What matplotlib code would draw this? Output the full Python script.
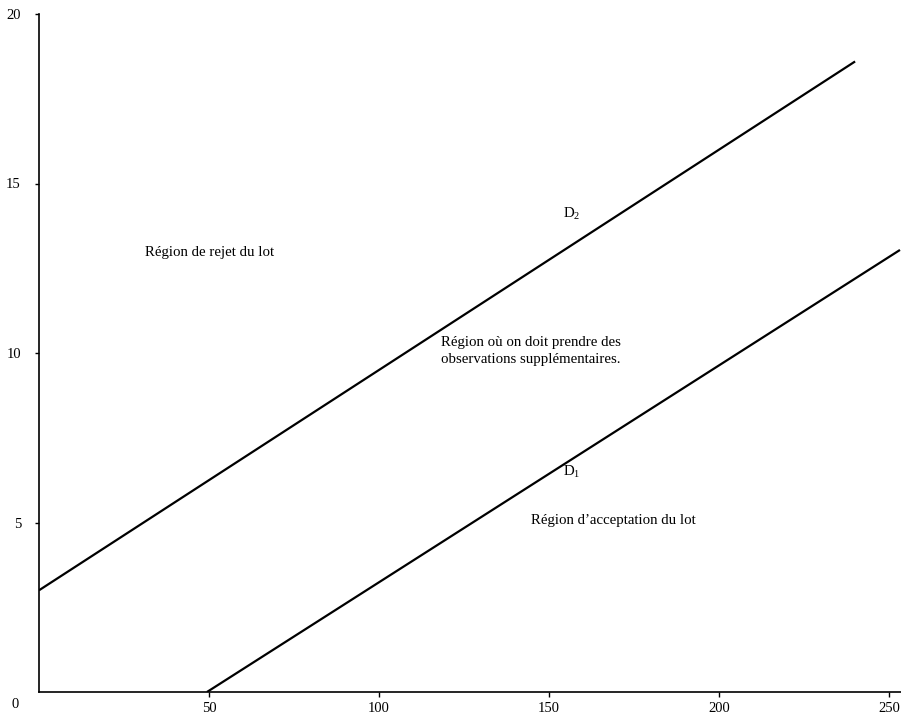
import matplotlib.pyplot as plt

plt.rcParams['font.family'] = ['Liberation Serif', 'DejaVu Serif']
plt.rcParams['mathtext.fontset'] = 'custom'
plt.rcParams['mathtext.rm'] = 'Liberation Serif'
plt.rcParams['mathtext.it'] = 'Liberation Serif:italic'

# droites de decision
d2_x = [0, 240]
d2_y = [3.0, 18.6]
d1_x = [49.4, 253.2]
d1_y = [0.0, 13.04]

x_ticks = [50, 100, 150, 200, 250]
y_ticks = [5, 10, 15, 20]

fig = plt.figure(figsize=(9.01, 7.15), dpi=100)
ax = fig.add_axes([39 / 901, 23 / 715, 862 / 901, 678 / 715])

ax.plot(d2_x, d2_y, color='black', lw=1.6, solid_capstyle='butt')
ax.plot(d1_x, d1_y, color='black', lw=1.6, solid_capstyle='butt')

ax.set_xlim(0, 253.5)
ax.set_ylim(0, 20)
ax.set_xticks(x_ticks)
ax.set_yticks(y_ticks)
ax.set_xticklabels([str(v) for v in x_ticks])
ax.set_yticklabels([str(v) for v in y_ticks])

for s in ('top', 'right'):
    ax.spines[s].set_visible(False)
for s in ('left', 'bottom'):
    ax.spines[s].set_linewidth(1.2)

ax.tick_params(axis='x', direction='out', length=3.6, width=1.0, pad=3.5, labelsize=10.5)
ax.tick_params(axis='y', direction='out', length=3, width=1.0, pad=10, labelsize=10.5)

ax.text(-24 / 862, -13 / 678, '0', transform=ax.transAxes, fontsize=10.5,
        ha='center', va='center')

fs = 10.7
ax.text(31.2, 12.95, 'Région de rejet du lot', fontsize=fs, ha='left', va='center')
ax.text(118.2, 10.06, 'Région où on doit prendre des\nobservations supplémentaires.',
        fontsize=fs, ha='left', va='center', linespacing=1.4)
ax.text(154, 14.1, r'D$_2$', fontsize=fs, ha='left', va='center')
ax.text(154, 6.5, r'D$_1$', fontsize=fs, ha='left', va='center')
ax.text(144.7, 5.07, 'Région d’acceptation du lot', fontsize=fs, ha='left', va='center')

fig.savefig('out.png', dpi=100)
